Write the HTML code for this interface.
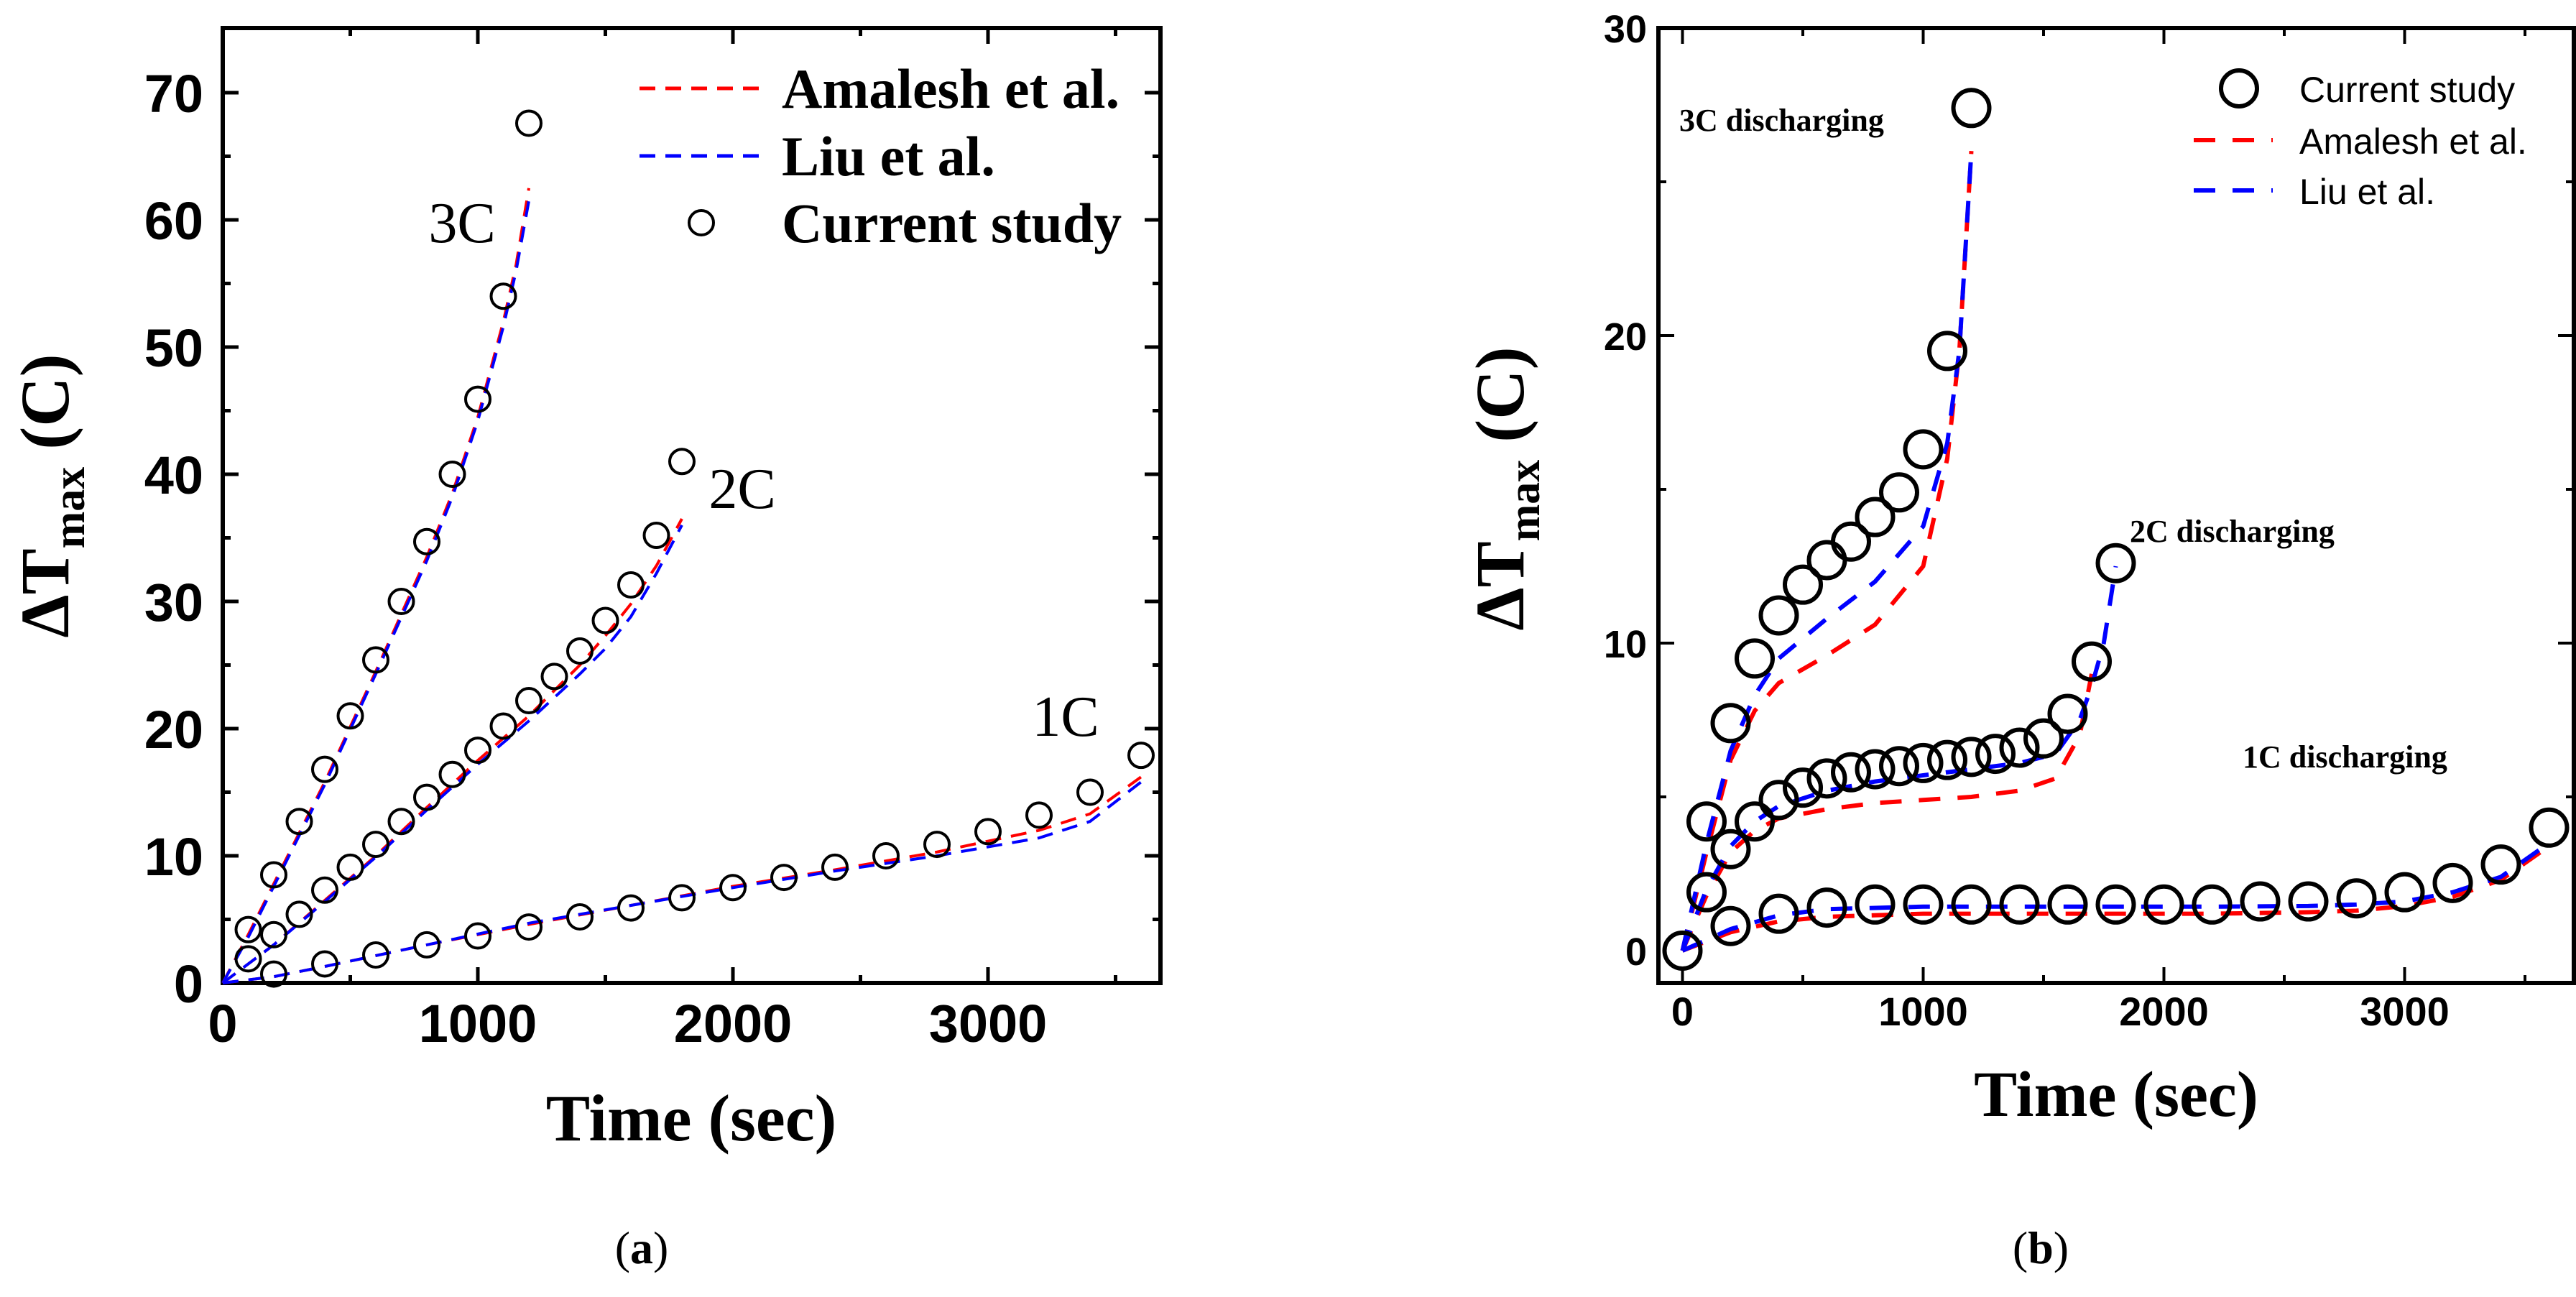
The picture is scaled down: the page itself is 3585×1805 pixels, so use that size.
<!DOCTYPE html>
<html><head><meta charset="utf-8"><style>
html,body{margin:0;padding:0;background:#fff}
svg{display:block}
.tb{font-family:"Liberation Serif",serif;font-weight:bold}
.tn{font-family:"Liberation Serif",serif}
.ss{font-family:"Liberation Sans",sans-serif}
</style></head><body>
<svg id="chart" width="3585" height="1805" viewBox="0 0 3585 1805" xmlns="http://www.w3.org/2000/svg">
<g id="pa"></g>
<g id="pb"></g>
<text x="893" y="1758" text-anchor="middle" class="tn" font-size="64">(<tspan font-weight="bold">a</tspan>)</text>
<text x="2840" y="1758" text-anchor="middle" class="tn" font-size="64">(<tspan font-weight="bold">b</tspan>)</text>
</svg>
<script>
// ---------- Panel (a) data ----------
const a3cT=[100,200,300,400,500,600,700,800,900,1000,1100,1200];
const a3cV=[4.2,8.5,12.7,16.8,21,25.4,30,34.7,40,45.9,54,67.6];
const a2cT=[100,200,300,400,500,600,700,800,900,1000,1100,1200,1300,1400,1500,1600,1700,1800];
const a2cV=[1.9,3.8,5.4,7.3,9.1,10.9,12.7,14.6,16.4,18.3,20.2,22.2,24.1,26.1,28.5,31.3,35.2,41];
const a1cT=[200,400,600,800,1000,1200,1400,1600,1800,2000,2200,2400,2600,2800,3000,3200,3400,3600];
const a1cV=[0.7,1.5,2.2,3.0,3.7,4.4,5.2,5.9,6.7,7.5,8.3,9.1,10,10.9,11.9,13.2,15,17.9];
const aL3T=[0,100,200,400,600,800,900,1000,1100,1150,1200];
const aL3Am=[0,3.8,7.8,15.8,24.5,33.5,38.5,44.5,52,56.5,62.5];
const aL3Li=[0,3.6,7.6,15.6,24.3,33.2,38.2,44.2,51.6,56,61.5];
const aL2T=[0,200,400,600,800,1000,1200,1400,1500,1600,1700,1800];
const aL2Am=[0,3,6.5,10,13.8,17.5,21,25,27.3,29.8,32.8,36.5];
const aL2Li=[0,3,6.4,9.9,13.6,17.2,20.6,24.3,26.3,28.8,32.2,36];
const aL1T=[0,200,400,800,1200,1600,2000,2400,2800,3200,3400,3600];
const aL1Am=[0,0.5,1.3,3.0,4.6,6.1,7.6,8.9,10.3,12.0,13.3,16.2];
const aL1Li=[0,0.5,1.3,3.0,4.7,6.1,7.5,8.8,10.0,11.4,12.7,15.8];
const aXTicks=[0,1000,2000,3000];
const aYTicks=[0,10,20,30,40,50,60,70];
// ---------- Panel (b) data ----------
const b3cT=[100,200,300,400,500,600,700,800,900,1000,1100,1200];
const b3cV=[4.2,7.4,9.5,10.9,11.9,12.7,13.3,14.1,14.9,16.3,19.5,27.4];
const b2cT=[0,100,200,300,400,500,600,700,800,900,1000,1100,1200,1300,1400,1500,1600,1700,1800];
const b2cV=[0,1.9,3.3,4.2,4.9,5.3,5.6,5.8,5.9,6.0,6.1,6.2,6.3,6.4,6.6,6.9,7.7,9.4,12.6];
const b1cT=[200,400,600,800,1000,1200,1400,1600,1800,2000,2200,2400,2600,2800,3000,3200,3400,3600];
const b1cV=[0.8,1.2,1.4,1.5,1.5,1.5,1.5,1.5,1.5,1.5,1.5,1.6,1.6,1.7,1.9,2.2,2.8,4.0];
const bL3T=[0,100,200,300,400,600,800,1000,1100,1150,1200];
const bL3Am=[0,3.2,6.2,7.8,8.7,9.6,10.6,12.5,16,19.5,26];
const bL3Li=[0,3.5,6.5,8.3,9.5,10.8,12.0,13.8,16.5,19.5,26];
const bL2T=[0,100,200,300,400,600,800,1000,1200,1400,1550,1650,1700,1750,1800];
const bL2Am=[0,1.8,3.2,3.9,4.3,4.6,4.8,4.9,5.0,5.2,5.6,7.0,9.0,null,null];
const bL2Li=[0,2,3.4,4.2,4.7,5.2,5.5,5.7,5.9,6.1,6.4,7.5,8.6,10,12.5];
const bL1T=[0,200,400,600,1000,1400,1800,2200,2600,2800,3000,3200,3400,3600];
const bL1Am=[0,0.6,0.95,1.1,1.2,1.2,1.2,1.2,1.25,1.3,1.45,1.75,2.3,3.4];
const bL1Li=[0,0.7,1.15,1.35,1.43,1.43,1.43,1.43,1.45,1.5,1.6,1.9,2.4,3.5];
const bXTicks=[0,1000,2000,3000];
const bYTicks=[0,10,20,30];

const NS="http://www.w3.org/2000/svg";
function mk(parent,tag,attrs){const e=document.createElementNS(NS,tag);for(const k in attrs)e.setAttribute(k,attrs[k]);parent.appendChild(e);return e;}

// axis functions
const aX=t=>310+t*0.3550, aY=v=>1368-v*17.7;
const bX=t=>2341.5+t*0.335, bY=v=>1323-v*42.8;

function drawLine(g,T,V,fx,fy,color,w,dash,name){
  let d="";let started=false;
  for(let i=0;i<T.length;i++){ if(V[i]==null)continue; d+=(started?"L":"M")+fx(T[i]).toFixed(1)+","+fy(V[i]).toFixed(1); started=true;}
  const p=mk(g,"path",{d:d,fill:"none",stroke:color,"stroke-width":w,"stroke-dasharray":dash});
  
  
}
function drawPts(g,T,V,fx,fy,r,w,name){
  for(let i=0;i<T.length;i++){
    const c=mk(g,"circle",{cx:fx(T[i]),cy:fy(V[i]),r:r,fill:"none",stroke:"#000","stroke-width":w});
    
    
  }
}
function frame(g,x0,y0,x1,y1,w){
  const r=mk(g,"rect",{x:x0,y:y0,width:x1-x0,height:y1-y0,fill:"none",stroke:"#000","stroke-width":w});
  
  
}
function ticks(g,x0,y0,x1,y1,xs,ys,majLen,minLen,w){
  let d="";
  xs.forEach(([x,maj])=>{const L=maj?majLen:minLen;d+=`M${x},${y1}V${y1-L}M${x},${y0}V${y0+L}`;});
  ys.forEach(([y,maj])=>{const L=maj?majLen:minLen;d+=`M${x0},${y}H${x0+L}M${x1},${y}H${x1-L}`;});
  const p=mk(g,"path",{d:d,stroke:"#000","stroke-width":w,fill:"none"});
  
  
}

// ---------- Panel (a) ----------
(function(){
  const g=document.getElementById("pa");
  const xs=[];for(let t=500;t<3700;t+=500)xs.push([aX(t),t%1000===0]);
  const ys=[];for(let v=5;v<75;v+=5)ys.push([aY(v),v%10===0]);
  ticks(g,310,39,1615,1368,xs,ys,22,11,5);
  frame(g,310,39,1615,1368,6);
  aXTicks.forEach(t=>{const e=mk(g,"text",{x:aX(t),y:1450,"text-anchor":"middle","font-size":74,"font-weight":"bold",class:"ss"});e.textContent=t;
    
    });
  aYTicks.forEach(v=>{const e=mk(g,"text",{x:283,y:aY(v)+27,"text-anchor":"end","font-size":74,"font-weight":"bold",class:"ss"});e.textContent=v;
    
    });
  [[aL3T,aL3Am,aL3Li],[aL2T,aL2Am,aL2Li],[aL1T,aL1Am,aL1Li]].forEach(([T,A,L])=>{
    drawLine(g,T,A,aX,aY,"#ff0000",4,"22,14","amalesh-line");
    drawLine(g,T,L,aX,aY,"#0000ff",4,"22,14","liu-line");
  });
  drawPts(g,a3cT,a3cV,aX,aY,17,4,"current-3c-point");
  drawPts(g,a2cT,a2cV,aX,aY,17,4,"current-2c-point");
  drawPts(g,a1cT,a1cV,aX,aY,17,4,"current-1c-point");
})();

// ---------- Panel (b) ----------
(function(){
  const g=document.getElementById("pb");
  const xs=[];for(let t=0;t<3700;t+=500)xs.push([bX(t),t%1000===0]);
  const ys=[];for(let v=5;v<30;v+=5)ys.push([bY(v),v%10===0]);
  ticks(g,2308,39,3582,1368,xs,ys,22,11,4);
  frame(g,2308,39,3582,1368,6);
  bXTicks.forEach(t=>{const e=mk(g,"text",{x:bX(t),y:1427,"text-anchor":"middle","font-size":56,"font-weight":"bold",class:"ss"});e.textContent=t;
    
    });
  bYTicks.forEach(v=>{const e=mk(g,"text",{x:2292,y:bY(v)+20,"text-anchor":"end","font-size":54,"font-weight":"bold",class:"ss"});e.textContent=v;
    
    });
  [[bL3T,bL3Am,bL3Li],[bL2T,bL2Am,bL2Li],[bL1T,bL1Am,bL1Li]].forEach(([T,A,L])=>{
    drawLine(g,T,A,bX,bY,"#ff0000",6,"30,24","amalesh-line");
    drawLine(g,T,L,bX,bY,"#0000ff",6,"30,24","liu-line");
  });
  drawPts(g,[0],[0],bX,bY,25,6,"current-origin-point");
  drawPts(g,b3cT,b3cV,bX,bY,25,6,"current-3c-point");
  drawPts(g,b2cT.slice(1),b2cV.slice(1),bX,bY,25,6,"current-2c-point");
  drawPts(g,b1cT,b1cV,bX,bY,25,6,"current-1c-point");
})();
</script>
<svg width="0" height="0" style="position:absolute"></svg>
<script>
// static labels & legends
(function(){
const s=document.getElementById("chart");
s.insertAdjacentHTML("beforeend",`
<g>
<text x="962" y="1587" text-anchor="middle" class="tb" font-size="92">Time (sec)</text>
<text transform="translate(95,690) rotate(-90)" text-anchor="middle" class="tb" font-size="96">ΔT<tspan font-size="62" dy="22">max</tspan><tspan dy="-22"> (C)</tspan></text>
<text x="643" y="337" text-anchor="middle" class="tn" font-size="80">3C</text>
<text x="1033" y="707" text-anchor="middle" class="tn" font-size="80">2C</text>
<text x="1483" y="1024" text-anchor="middle" class="tn" font-size="80">1C</text>
<g>
<line x1="890" y1="123" x2="1062" y2="123" stroke="#ff0000" stroke-width="5" stroke-dasharray="22,14"/>
<text x="1088" y="150" class="tb" font-size="78">Amalesh et al.</text>
<line x1="890" y1="217" x2="1062" y2="217" stroke="#0000ff" stroke-width="5" stroke-dasharray="22,14"/>
<text x="1088" y="244" class="tb" font-size="78">Liu et al.</text>
<circle cx="976" cy="310" r="17" fill="none" stroke="#000" stroke-width="4"/>
<text x="1088" y="337" class="tb" font-size="78">Current study</text>
</g></g>
<g>
<text x="2945" y="1553" text-anchor="middle" class="tb" font-size="90">Time (sec)</text>
<text transform="translate(2120,680) rotate(-90)" text-anchor="middle" class="tb" font-size="96">ΔT<tspan font-size="62" dy="22">max</tspan><tspan dy="-22"> (C)</tspan></text>
<text x="2337" y="182" class="tb" font-size="44">3C discharging</text>
<text x="2964" y="754" class="tb" font-size="44">2C discharging</text>
<text x="3121" y="1068" class="tb" font-size="44">1C discharging</text>
<g>
<circle cx="3116" cy="123" r="25" fill="none" stroke="#000" stroke-width="6"/>
<text x="3200" y="142" class="ss" font-size="50">Current study</text>
<line x1="3053" y1="195" x2="3163" y2="195" stroke="#ff0000" stroke-width="6" stroke-dasharray="30,24"/>
<text x="3200" y="214" class="ss" font-size="50">Amalesh et al.</text>
<line x1="3053" y1="265" x2="3163" y2="265" stroke="#0000ff" stroke-width="6" stroke-dasharray="30,24"/>
<text x="3200" y="284" class="ss" font-size="50">Liu et al.</text>
</g></g>`);
})();
</script>
</body></html>
